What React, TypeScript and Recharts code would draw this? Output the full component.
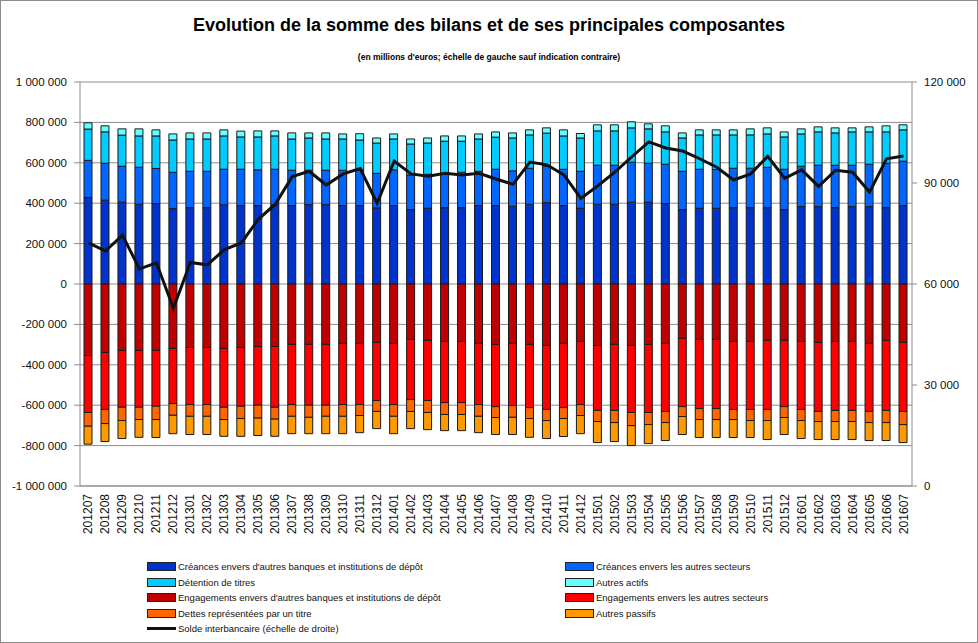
import React from "react";
import {
  ComposedChart,
  Bar,
  Line,
  XAxis,
  YAxis,
  CartesianGrid,
} from "recharts";

const months = [
  "201207", "201208", "201209", "201210", "201211", "201212",
  "201301", "201302", "201303", "201304", "201305", "201306",
  "201307", "201308", "201309", "201310", "201311", "201312",
  "201401", "201402", "201403", "201404", "201405", "201406",
  "201407", "201408", "201409", "201410", "201411", "201412",
  "201501", "201502", "201503", "201504", "201505", "201506",
  "201507", "201508", "201509", "201510", "201511", "201512",
  "201601", "201602", "201603", "201604", "201605", "201606",
  "201607",
];

// millions d'euros (échelle de gauche)
const creancesBanques = [
  428000, 415000, 405000, 395000, 398000, 373000, 378000, 378000, 392000, 388000,
  388000, 392000, 388000, 393000, 393000, 388000, 388000, 377000, 388000, 368000,
  375000, 378000, 378000, 388000, 388000, 385000, 395000, 403000, 388000, 375000,
  395000, 395000, 405000, 405000, 398000, 368000, 375000, 375000, 378000, 378000,
  378000, 368000, 383000, 383000, 378000, 383000, 383000, 378000, 388000,
];
const creancesAutres = [
  184000, 183000, 178000, 183000, 174000, 180000, 180000, 180000, 176000, 180000,
  177000, 176000, 175000, 170000, 170000, 175000, 177000, 171000, 177000, 172000,
  168000, 170000, 175000, 170000, 180000, 175000, 178000, 180000, 180000, 183000,
  193000, 193000, 198000, 193000, 195000, 190000, 193000, 192000, 195000, 195000,
  200000, 200000, 200000, 205000, 210000, 205000, 210000, 220000, 220000,
];
const detentionTitres = [
  155000, 155000, 154000, 155000, 161000, 160000, 160000, 160000, 165000, 160000,
  163000, 165000, 155000, 160000, 155000, 155000, 148000, 150000, 153000, 153000,
  155000, 159000, 154000, 160000, 159000, 163000, 165000, 164000, 165000, 165000,
  170000, 170000, 170000, 170000, 160000, 165000, 170000, 171000, 165000, 165000,
  165000, 160000, 160000, 165000, 160000, 165000, 160000, 155000, 155000,
];
const autresActifs = [
  31000, 30000, 31000, 35000, 30000, 30000, 30000, 30000, 30000, 29000,
  30000, 25000, 30000, 25000, 30000, 25000, 31000, 25000, 25000, 25000,
  25000, 26000, 26000, 25000, 26000, 25000, 25000, 26000, 30000, 22000,
  30000, 30000, 30000, 25000, 30000, 25000, 25000, 25000, 25000, 30000,
  30000, 25000, 25000, 25000, 25000, 20000, 25000, 30000, 25000,
];
const engagementsBanques = [
  -354000, -339000, -329000, -329000, -329000, -319000, -314000, -314000, -319000, -314000,
  -309000, -309000, -299000, -299000, -299000, -294000, -294000, -289000, -294000, -274000,
  -279000, -284000, -284000, -294000, -299000, -294000, -299000, -304000, -294000, -284000,
  -304000, -299000, -304000, -299000, -294000, -269000, -274000, -274000, -284000, -284000,
  -279000, -279000, -284000, -289000, -284000, -284000, -294000, -279000, -289000,
];
const engagementsAutres = [
  -282000, -282000, -281000, -281000, -276000, -273000, -283000, -283000, -291000, -291000,
  -291000, -301000, -298000, -301000, -301000, -303000, -303000, -288000, -303000, -298000,
  -298000, -303000, -303000, -303000, -308000, -308000, -313000, -317000, -318000, -313000,
  -322000, -327000, -332000, -337000, -337000, -338000, -343000, -343000, -337000, -337000,
  -342000, -328000, -337000, -342000, -342000, -342000, -337000, -347000, -342000,
];
const dettesTitre = [
  -68000, -70000, -66000, -61000, -66000, -58000, -58000, -58000, -61000, -61000,
  -64000, -59000, -58000, -60000, -55000, -58000, -54000, -54000, -58000, -59000,
  -59000, -59000, -59000, -58000, -54000, -58000, -54000, -55000, -54000, -54000,
  -55000, -60000, -65000, -60000, -55000, -49000, -54000, -54000, -50000, -55000,
  -55000, -54000, -55000, -50000, -55000, -55000, -55000, -60000, -65000,
];
const autresPassifs = [
  -89000, -89000, -89000, -88000, -89000, -91000, -90000, -90000, -83000, -88000,
  -86000, -85000, -86000, -81000, -86000, -86000, -85000, -85000, -86000, -85000,
  -85000, -80000, -80000, -81000, -84000, -85000, -93000, -89000, -89000, -90000,
  -104000, -94000, -99000, -94000, -89000, -89000, -89000, -89000, -89000, -84000,
  -94000, -84000, -89000, -89000, -89000, -89000, -89000, -89000, -89000,
];
// échelle de droite
const soldeInterbancaire = [
  72200, 69800, 74500, 64500, 66300, 52800, 66400, 65700, 70200, 72200,
  79200, 83700, 91900, 93500, 89400, 92700, 94300, 84000, 96500, 92700,
  92000, 92900, 92400, 92900, 91200, 89600, 96200, 95400, 92400, 85400,
  89200, 93200, 97800, 102200, 100400, 99500, 97200, 94700, 90900, 92700,
  97900, 91400, 93900, 89000, 93800, 93200, 87300, 97200, 98000,
];

const leftTicks = [-1000000, -800000, -600000, -400000, -200000, 0, 200000, 400000, 600000, 800000, 1000000];
const rightTicks = [0, 30000, 60000, 90000, 120000];

const data = months.map((m, i) => ({
  month: m,
  creancesBanques: creancesBanques[i],
  creancesAutres: creancesAutres[i],
  detentionTitres: detentionTitres[i],
  autresActifs: autresActifs[i],
  engagementsBanques: engagementsBanques[i],
  engagementsAutres: engagementsAutres[i],
  dettesTitre: dettesTitre[i],
  autresPassifs: autresPassifs[i],
  solde: soldeInterbancaire[i],
}));

const fmt = (v: number) => {
  const neg = v < 0;
  const s = Math.abs(v).toString().replace(/\B(?=(\d{3})+(?!\d))/g, " ");
  return (neg ? "-" : "") + s;
};

const series = [
  { key: "creancesBanques", color: "#0033CC", label: "Créances envers d'autres banques et institutions de dépôt" },
  { key: "creancesAutres", color: "#0066FF", label: "Créances envers les autres secteurs" },
  { key: "detentionTitres", color: "#00CCFF", label: "Détention de titres" },
  { key: "autresActifs", color: "#66FFFF", label: "Autres actifs" },
  { key: "engagementsBanques", color: "#C00000", label: "Engagements envers d'autres banques et institutions de dépôt" },
  { key: "engagementsAutres", color: "#FF0000", label: "Engagements envers les autres secteurs" },
  { key: "dettesTitre", color: "#FF6600", label: "Dettes représentées par un titre" },
  { key: "autresPassifs", color: "#FF9900", label: "Autres passifs" },
];

const XTick = (props: any) => {
  const { x, y, payload } = props;
  return (
    <text
      x={x}
      y={y}
      dy={4}
      transform={`rotate(-90, ${x}, ${y})`}
      textAnchor="end"
      fontSize={12}
      fill="#111"
      fontFamily="'Liberation Sans', Arial, sans-serif"
    >
      {payload.value}
    </text>
  );
};

const legendFont = "'Liberation Sans Narrow', 'Liberation Sans', Arial, sans-serif";

const LegendItem = ({ color, label, x, y, line }: any) => (
  <div style={{ position: "absolute", left: x, top: y - 7, height: 14, display: "flex", alignItems: "center", whiteSpace: "nowrap" }}>
    {line ? (
      <div style={{ width: 29, height: 3, background: "#111", marginRight: 2 }} />
    ) : (
      <div style={{ width: 27, height: 7, background: color, border: "1px solid #222", marginRight: 2 }} />
    )}
    <span style={{ fontFamily: legendFont, fontSize: 9.5, color: "#111" }}>{label}</span>
  </div>
);

export default function App() {
  const rows = [566, 582, 597, 613, 628];
  return (
    <div
      style={{
        position: "absolute",
        left: 0,
        top: 0,
        width: 978,
        height: 643,
        background: "#fff",
        overflow: "hidden",
      }}
    >
      <div
        style={{
          position: "absolute",
          left: 0,
          top: 0,
          width: 976,
          height: 641,
          border: "1px solid #8c8c8c",
        }}
      />
      <div
        style={{
          position: "absolute",
          left: 0,
          width: 978,
          top: 15,
          textAlign: "center",
          fontFamily: "'Liberation Sans', Arial, sans-serif",
          fontWeight: "bold",
          fontSize: 18,
          color: "#000",
        }}
      >
        Evolution de la somme des bilans et de ses principales composantes
      </div>
      <div
        style={{
          position: "absolute",
          left: 0,
          width: 978,
          top: 52,
          textAlign: "center",
          fontFamily: legendFont,
          fontWeight: "bold",
          fontSize: 8.5,
          color: "#000",
        }}
      >
        (en millions d'euros; échelle de gauche sauf indication contraire)
      </div>
      <div style={{ position: "absolute", left: 0, top: 0 }}>
        <ComposedChart
          width={978}
          height={643}
          data={data}
          stackOffset="sign"
          margin={{ top: 82, right: 8, bottom: 97, left: 0 }}
        >
          <CartesianGrid vertical={false} stroke="#8c8c8c" strokeWidth={1} yAxisId="left" />
          <XAxis
            dataKey="month"
            interval={0}
            tick={<XTick />}
            tickLine={false}
            axisLine={{ stroke: "#8c8c8c" }}
            height={60}
          />
          <YAxis
            yAxisId="left"
            orientation="left"
            domain={[-1000000, 1000000]}
            ticks={leftTicks}
            tickFormatter={fmt}
            width={80}
            tickSize={6}
            tickMargin={7}
            axisLine={{ stroke: "#8c8c8c" }}
            tickLine={{ stroke: "#8c8c8c" }}
            tick={{ fontSize: 11.5, fill: "#111", fontFamily: "'Liberation Sans', Arial, sans-serif" }}
            allowDataOverflow
          />
          <YAxis
            yAxisId="right"
            orientation="right"
            domain={[0, 120000]}
            ticks={rightTicks}
            tickFormatter={fmt}
            width={58}
            tickSize={5}
            tickMargin={7}
            axisLine={{ stroke: "#8c8c8c" }}
            tickLine={{ stroke: "#8c8c8c" }}
            tick={{ fontSize: 11.5, fill: "#111", fontFamily: "'Liberation Sans', Arial, sans-serif", textAnchor: "start" }}
            allowDataOverflow
          />
          {series.map((s) => (
            <Bar
              key={s.key}
              dataKey={s.key}
              yAxisId="left"
              stackId="a"
              fill={s.color}
              stroke="#1a1a1a"
              strokeWidth={1}
              barSize={8}
              isAnimationActive={false}
            />
          ))}
          <Line
            dataKey="solde"
            yAxisId="right"
            type="linear"
            stroke="#111"
            strokeWidth={3}
            dot={false}
            activeDot={false}
            isAnimationActive={false}
          />
        </ComposedChart>
      </div>
      {series.map((s, i) => (
        <LegendItem
          key={s.key}
          color={s.color}
          label={s.label}
          x={i % 2 === 0 ? 147 : 565}
          y={rows[Math.floor(i / 2)]}
        />
      ))}
      <LegendItem line label="Solde interbancaire (échelle de droite)" x={147} y={rows[4]} />
    </div>
  );
}
